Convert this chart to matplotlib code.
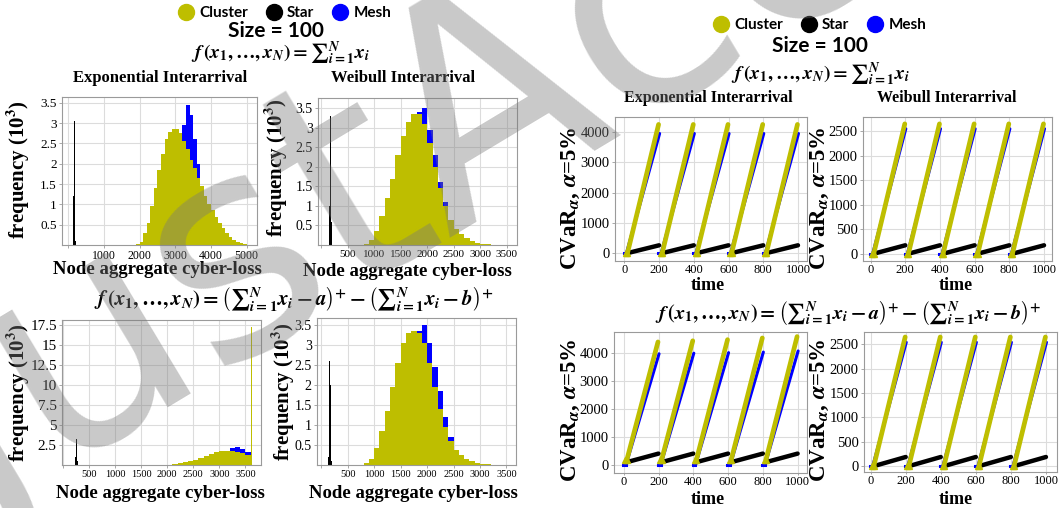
import numpy as np
import matplotlib.pyplot as plt
from matplotlib.lines import Line2D

plt.rcParams['mathtext.fontset'] = 'custom'
plt.rcParams['mathtext.it'] = 'STIXGeneral:italic:bold'
plt.rcParams['mathtext.rm'] = 'STIXGeneral:bold'
plt.rcParams['mathtext.bf'] = 'STIXGeneral:bold'
plt.rcParams['axes.unicode_minus'] = False

SERIF = 'Liberation Serif'
SANS = 'Lato'
YEL = '#bebe00'
BLU = '#0000ff'
BLK = '#000000'

# ---- histograms of node aggregate cyber-loss (frequency in 10^3) ----
# f = sum, exponential interarrival (bins of 100 / 10)
h1_cluster_start, h1_cluster = 1900, [0.02, 0.08, 0.30, 0.55, 0.95, 1.40, 1.85, 2.25, 2.60, 2.78,
                                      2.85, 2.85, 2.75, 2.55, 2.35, 2.10, 1.90, 1.65, 1.45, 1.20,
                                      1.00, 0.85, 0.70, 0.55, 0.42, 0.30, 0.20, 0.13, 0.08, 0.05,
                                      0.03, 0.01]
h1_mesh_start, h1_mesh = 2700, [0.40, 0.70, 1.20, 1.80, 2.40, 2.95, 3.45, 3.20, 2.60, 2.00,
                                1.40, 0.90, 0.50, 0.20, 0.05]
h1_star_start, h1_star = 140, [0.30, 1.20, 2.70, 3.05, 1.90, 0.60, 0.10]

# f = sum, weibull interarrival
h2_cluster_start, h2_cluster = 700, [0.01, 0.03, 0.12, 0.35, 0.75, 1.20, 1.70, 2.30, 2.80, 3.15,
                                     3.35, 3.35, 3.10, 2.60, 2.00, 1.45, 1.00, 0.65, 0.42, 0.27,
                                     0.17, 0.10, 0.06, 0.03, 0.015]
h2_mesh_start, h2_mesh = 1400, [1.20, 1.70, 2.30, 2.90, 3.40, 3.50, 2.95, 2.30, 1.60, 1.10,
                                0.60, 0.30, 0.10]
h2_star_start, h2_star = 140, [0.20, 1.00, 2.60, 3.30, 2.00, 0.60, 0.10]

# f = (sum - a)^+ - (sum - b)^+, exponential interarrival
h3_cluster_start, h3_cluster = 2000, [0.05, 0.12, 0.22, 0.35, 0.50, 0.66, 0.85, 1.10, 1.35, 1.60,
                                      1.80, 1.78, 1.70, 1.60, 1.45, 1.30]
h3_cap_loss, h3_cap_freq = 3615, 17.2
h3_mesh_start, h3_mesh = 3000, [1.20, 1.60, 2.10, 2.25, 2.05, 1.60]
h3_star_start, h3_star = 220, [0.20, 1.00, 2.50, 3.20, 1.80, 0.50, 0.10]

# f = (sum - a)^+ - (sum - b)^+, weibull interarrival
h4_cluster_start, h4_cluster = 700, [0.01, 0.04, 0.15, 0.42, 0.85, 1.35, 1.95, 2.55, 3.05, 3.30,
                                     3.35, 3.30, 3.05, 2.55, 1.95, 1.40, 0.95, 0.60, 0.38, 0.24,
                                     0.15, 0.09, 0.05, 0.03, 0.015]
h4_mesh_start, h4_mesh = 1400, [1.40, 1.90, 2.50, 3.00, 3.35, 3.50, 3.05, 2.45, 1.85, 1.20,
                                0.70, 0.35, 0.12]
h4_star_start, h4_star = 130, [0.20, 1.00, 2.60, 3.30, 2.00, 0.60, 0.10]

# ---- CVaR over time: each reset period is one rising segment ----
period_start = [0, 200, 400, 600, 800]
rise_t = {'Cluster': (18, 197), 'Mesh': (12, 203), 'Star': (20, 200)}
c1 = {'Cluster': ([0] * 5, [4250] * 5), 'Mesh': ([0] * 5, [3950] * 5), 'Star': ([0] * 5, [255] * 5)}
c2 = {'Cluster': ([0] * 5, [2650] * 5), 'Mesh': ([0] * 5, [2550] * 5), 'Star': ([0] * 5, [170] * 5)}
c3 = {'Cluster': ([200] * 5, [4380, 4420, 4460, 4520, 4570]),
      'Mesh': ([0] * 5, [3960, 3980, 4000, 4020, 4060]),
      'Star': ([120] * 5, [420, 420, 420, 420, 420])}
c4 = {'Cluster': ([0] * 5, [2650] * 5), 'Mesh': ([0] * 5, [2540] * 5), 'Star': ([0] * 5, [185] * 5)}

W, H = 1062, 508
fig = plt.figure(figsize=(W / 100, H / 100), dpi=100)


def box(l, t, r, b):
    return [l / W, 1 - b / H, (r - l) / W, (b - t) / H]


def style(ax, xt, xl, yt, yl, xfs, yfs):
    ax.set_xticks(xt)
    ax.set_xticklabels(xl, fontsize=xfs, family=SERIF)
    ax.set_yticks(yt)
    ax.set_yticklabels(yl, fontsize=yfs, family=SERIF)
    ax.grid(True, color='#dcdcdc', lw=0.8)
    ax.set_axisbelow(True)
    for s in ax.spines.values():
        s.set_color('#9a9a9a')
        s.set_linewidth(0.8)
    ax.tick_params(length=2.5, width=0.6, color='#9a9a9a', pad=1.2)


def hist(ax, start, vals, width, color):
    edges = start + width * np.arange(len(vals) + 1)
    ax.stairs(vals, edges, fill=True, color=color, lw=0)


def hist_panel(rect, data, xlim, ylim, xt, xl, yt, yl, xfs, yfs):
    ax = fig.add_axes(box(*rect))
    (ms, mv), (cs, cv), (ss, sv) = data
    hist(ax, ms, mv, 100, BLU)
    hist(ax, cs, cv, 100, YEL)
    hist(ax, ss, sv, 10, BLK)
    ax.set_xlim(*xlim)
    ax.set_ylim(*ylim)
    style(ax, xt, xl, yt, yl, xfs, yfs)
    return ax


def cvar_panel(rect, d, xlim, ylim, yt):
    ax = fig.add_axes(box(*rect))
    for name, color, lw in [('Mesh', BLU, 2.2), ('Star', BLK, 3.2), ('Cluster', YEL, 3.4)]:
        v0, v1 = d[name]
        ta, tb = rise_t[name]
        for p, a, b in zip(period_start, v0, v1):
            ax.plot([p + ta, p + tb], [a, b], color=color, lw=lw, solid_capstyle='round')
            if name == 'Cluster':
                ax.plot([p + ta - 8, p + ta], [a, a], ls='', marker='^', ms=5, color=color)
            if name == 'Mesh':
                ax.plot([p - 4, p + ta], [a, a], color=color, lw=lw)
    ax.set_xlim(*xlim)
    ax.set_ylim(*ylim)
    xt = [0, 200, 400, 600, 800, 1000]
    style(ax, xt, [str(x) for x in xt], yt, [str(y) for y in yt], 9, 10.5)
    ax.tick_params(axis='x', length=1.5, pad=0.5)
    return ax


half = ['0.5', '1', '1.5', '2', '2.5', '3', '3.5']
half_v = [0.5, 1, 1.5, 2, 2.5, 3, 3.5]

hist_panel((62, 97, 257, 245),
           [(h1_mesh_start, h1_mesh), (h1_cluster_start, h1_cluster), (h1_star_start, h1_star)],
           (-170, 5290), (0, 3.64), [0, 1000, 2000, 3000, 4000, 5000],
           ['', '1000', '2000', '3000', '4000', '5000'], half_v, half, 8.5, 9.5)
hist_panel((318, 98, 517, 245),
           [(h2_mesh_start, h2_mesh), (h2_cluster_start, h2_cluster), (h2_star_start, h2_star)],
           (-60, 3694), (0, 3.76), list(range(0, 4000, 500)),
           [''] + [str(x) for x in range(500, 4000, 500)], half_v, half, 8, 10)
ax3 = hist_panel((62, 320, 261, 465),
                 [(h3_mesh_start, h3_mesh), (h3_cluster_start, h3_cluster), (h3_star_start, h3_star)],
                 (-20, 3800), (0, 18.1), list(range(0, 4000, 500)),
                 [''] + [str(x) for x in range(500, 4000, 500)],
                 [2.5, 5, 7.5, 10, 12.5, 15, 17.5],
                 ['2.5', '5', '7.5', '10', '12.5', '15', '17.5'], 7.5, 11)
ax3.bar([h3_cap_loss], [h3_cap_freq], width=14, align='center', color=YEL, linewidth=0)
hist_panel((317, 318, 516, 465),
           [(h4_mesh_start, h4_mesh), (h4_cluster_start, h4_cluster), (h4_star_start, h4_star)],
           (-80, 3680), (0, 3.67), list(range(0, 4000, 500)),
           [''] + [str(x) for x in range(500, 4000, 500)], half_v, half, 7.5, 10)

cvar_panel((615, 117, 807, 261), c1, (-54, 1052), (-264, 4496), [0, 1000, 2000, 3000, 4000])
cvar_panel((863, 117, 1052, 261), c2, (-44, 1046), (-151, 2790), [0, 500, 1000, 1500, 2000, 2500])
cvar_panel((614, 332, 807, 473), c3, (-56, 1054), (-268, 4732), [0, 1000, 2000, 3000, 4000])
cvar_panel((864, 332, 1057, 472), c4, (-38, 1063), (-123, 2752), [0, 500, 1000, 1500, 2000, 2500])


def ftext(x, y, s, **kw):
    fig.text(x / W, 1 - y / H, s, ha='center', va='center', **kw)


# headers
for (lx, ly), (sx, sy), (fx, fy) in [((285, 13), (276, 31), (280, 53)),
                                     ((820, 25), (820, 46), (820, 74))]:
    handles = [Line2D([], [], ls='', marker='o', ms=11.5, color=c) for c in (YEL, BLK, BLU)]
    fig.legend(handles, ['Cluster', 'Star', 'Mesh'], loc='center',
               bbox_to_anchor=(lx / W, 1 - ly / H), ncol=3, frameon=False,
               prop={'family': SANS, 'weight': 'bold', 'size': 11},
               handletextpad=0.35, columnspacing=1.2, handlelength=1.0, borderaxespad=0)
    ftext(sx, sy, 'Size = 100', family=SANS, weight='bold', fontsize=15)
    ftext(fx, fy, r'$f\,(x_1, \ldots, x_N) = {\sum}_{i=1}^{N} x_i$', fontsize=14)

f_cap = (r'$f\,(x_1, \ldots, x_N) = \left({\sum}_{i=1}^{N} x_i - a\right)^{+}'
         r' - \left({\sum}_{i=1}^{N} x_i - b\right)^{+}$')
ftext(294, 299, f_cap, fontsize=15)
ftext(848, 313, f_cap, fontsize=14.5)

# panel titles
for x, y, s, fs in [(160, 78, 'Exponential Interarrival', 12), (403, 78, 'Weibull Interarrival', 12),
                    (708, 98, 'Exponential Interarrival', 11.5), (947, 98, 'Weibull Interarrival', 11.5)]:
    ftext(x, y, s, family=SERIF, weight='bold', fontsize=fs)

# axis labels
for x, y in [(18, 170), (276, 168), (18, 393), (283, 392)]:
    ftext(x, y, r'frequency (10$^{3}$)', family=SERIF, weight='bold', fontsize=15, rotation=90)
for x, y in [(157, 270), (407, 271), (160, 493), (413, 493)]:
    ftext(x, y, 'Node aggregate cyber-loss', family=SERIF, weight='bold', fontsize=13.5)
for x, y in [(571, 198), (820, 198), (571, 410), (820, 410)]:
    ftext(x, y, r'CVaR$_{\alpha}$, $\alpha$=5%', family=SERIF, weight='bold', fontsize=16.5, rotation=90)
for x, y in [(708, 286), (956, 286), (708, 499), (956, 499)]:
    ftext(x, y, 'time', family=SERIF, weight='bold', fontsize=13)

# watermark
fig.text(-20 / W, 1 - 530 / H, 'JustAccepted', rotation=31, rotation_mode='anchor',
         ha='left', va='baseline', fontsize=215, family='DejaVu Sans', color='#787878',
         alpha=0.4, zorder=10)

fig.savefig('out.png', dpi=100)
